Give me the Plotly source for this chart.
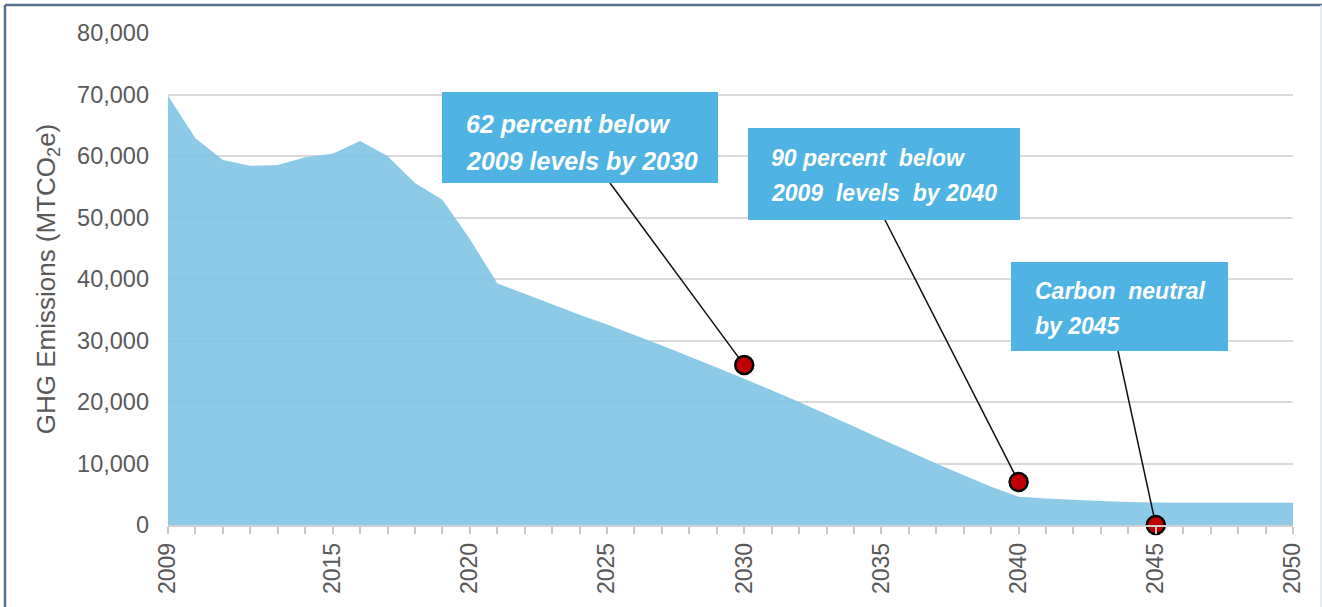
import plotly.graph_objects as go

# Annual GHG emissions trajectory, 2009-2050 (MTCO2e)
years = list(range(2009, 2051))
emissions = [69800, 62900, 59350, 58400, 58550, 59800, 60350, 62450, 60000, 55600,
             52900, 46500, 39300, 37600, 35900, 34200, 32600, 30900, 29200, 27400,
             25600, 23800, 21900, 20000, 18000, 16000, 14000, 12000, 10000, 8100,
             6200, 4600, 4300, 4100, 3900, 3750, 3650, 3600, 3600, 3600, 3600, 3600]

# Policy milestones
milestone_years = [2030, 2040, 2045]
milestone_values = [26000, 7000, 0]
milestone_lines = [
    ["62 percent below", "2009 levels by 2030"],
    ["90 percent\u00a0 below", "2009\u00a0 levels\u00a0 by 2040"],
    ["Carbon\u00a0 neutral", "by 2045"],
]

x_tickvals = [2009, 2015, 2020, 2025, 2030, 2035, 2040, 2045, 2050]
y_tickvals = [0, 10000, 20000, 30000, 40000, 50000, 60000, 70000, 80000]

W, H = 1322, 607
L, R, T, B = 168, 29, 33, 82
PW, PH = W - L - R, H - T - B
X0, X1 = 2009, 2050
Y0, Y1 = 0, 80000


def px_x(px):
    return (px - L) / PW


def px_y(py):
    return (H - B - py) / PH


def data_x(px):
    return X0 + (px - L) / PW * (X1 - X0)


def data_y(py):
    return Y0 + (H - B - py) / PH * (Y1 - Y0)


# Callout boxes: (left, top, right, bottom) in page pixels, text left, line centres, leader attach point
boxes = [
    dict(rect=(442, 92, 718, 183), tx=464, ty=(124, 161), attach=(610, 183), size=25),
    dict(rect=(748, 128, 1020, 220), tx=769, ty=(158, 193), attach=(885, 220), size=23),
    dict(rect=(1011, 262, 1228, 351), tx=1033, ty=(291, 326), attach=(1118, 351), size=23),
]

fig = go.Figure()

fig.add_trace(go.Scatter(
    x=years, y=emissions, mode="none", fill="tozeroy",
    fillcolor="rgba(128,196,229,0.9)", hoverinfo="skip", showlegend=False,
))

for yr, val, b in zip(milestone_years, milestone_values, boxes):
    ax, ay = b["attach"]
    fig.add_trace(go.Scatter(
        x=[yr, data_x(ax)], y=[val, data_y(ay)], mode="lines",
        line=dict(color="#111111", width=1.5), cliponaxis=False,
        hoverinfo="skip", showlegend=False,
    ))

fig.add_trace(go.Scatter(
    x=milestone_years, y=milestone_values, mode="markers",
    marker=dict(size=18, color="#C00000", line=dict(color="#000000", width=2.5)),
    cliponaxis=False, showlegend=False,
))

shapes = []
annotations = []
for b, lines in zip(boxes, milestone_lines):
    l, t, r, btm = b["rect"]
    shapes.append(dict(type="rect", xref="paper", yref="paper",
                       x0=px_x(l), x1=px_x(r), y0=px_y(btm), y1=px_y(t),
                       fillcolor="#4FB3E4", line=dict(width=0), layer="above"))
    for line_text, cy in zip(lines, b["ty"]):
        annotations.append(dict(
            xref="paper", yref="paper", x=px_x(b["tx"]), y=px_y(cy),
            xanchor="left", yanchor="middle", showarrow=False, text=line_text,
            font=dict(family="Arial, Liberation Sans", size=b["size"], color="white",
                      weight="bold", style="italic"),
        ))

# Outer frame
frame = "#56728A"
shapes.append(dict(type="line", xref="paper", yref="paper",
                   x0=px_x(5), x1=px_x(W + 2), y0=px_y(5), y1=px_y(5),
                   line=dict(color=frame, width=2.5), layer="above"))
shapes.append(dict(type="line", xref="paper", yref="paper",
                   x0=px_x(5), x1=px_x(5), y0=px_y(5), y1=px_y(H + 2),
                   line=dict(color=frame, width=2.5), layer="above"))
shapes.append(dict(type="line", xref="paper", yref="paper",
                   x0=px_x(W - 1), x1=px_x(W - 1), y0=px_y(5), y1=px_y(H + 2),
                   line=dict(color="#DCE4EC", width=1.5), layer="above"))

fig.update_layout(
    width=W, height=H,
    margin=dict(l=L, r=R, t=T, b=B),
    paper_bgcolor="white", plot_bgcolor="white",
    font=dict(family="Arial, Liberation Sans", color="#595959"),
    shapes=shapes, annotations=annotations,
    showlegend=False,
)

fig.update_xaxes(
    range=[X0, X1], tickvals=x_tickvals, ticktext=[str(v) for v in x_tickvals],
    tickangle=-90, tickfont=dict(size=23, color="#595959"),
    ticks="outside", ticklen=7, tickwidth=1.5, tickcolor="#C8C8C8",
    minor=dict(tick0=2009, dtick=1, ticks="outside", ticklen=7, tickwidth=1.5,
               tickcolor="#C8C8C8", showgrid=False),
    showgrid=False, showline=True, linecolor="#D0D0D0", linewidth=1.5,
    zeroline=False, ticklabelstandoff=0,
)

fig.update_yaxes(
    range=[Y0, Y1], tickvals=y_tickvals, tickformat=",d",
    tickfont=dict(size=23.5, color="#595959"),
    showgrid=True, gridcolor="#D9D9D9", gridwidth=1.5,
    zeroline=False, showline=False, ticks="", ticklabelstandoff=18,
    title=dict(text="GHG Emissions (MTCO<sub>2</sub>e)",
               font=dict(size=26, color="#595959"), standoff=14),
)

fig.write_html("out.html")
